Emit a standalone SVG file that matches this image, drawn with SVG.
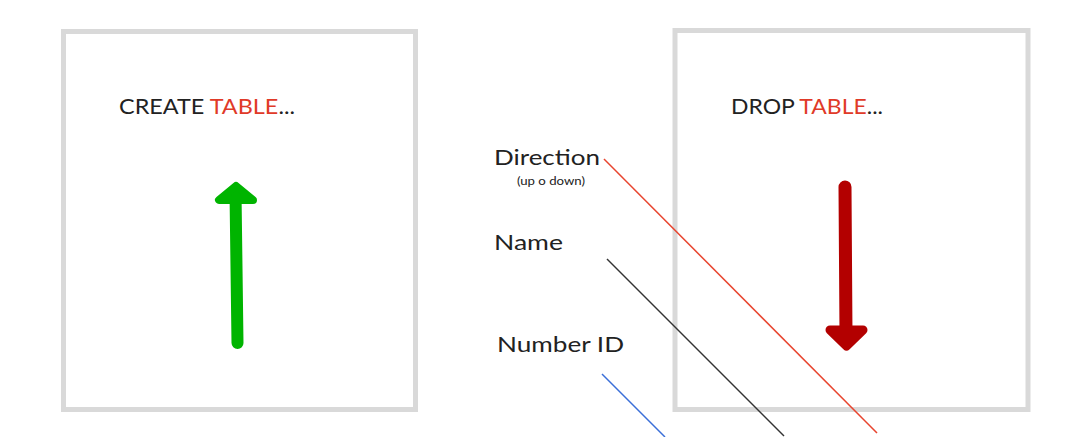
<svg xmlns="http://www.w3.org/2000/svg" width="1074" height="437" viewBox="0 0 1074 437">
<style>
.box{fill:none;stroke:#d9d9d9;stroke-width:5}
.t{font-family:Lato,"Liberation Sans",sans-serif;fill:#222}
.hd{font-size:22px}
.lb{font-size:21px}
.red{fill:#e03a28}
.ln{stroke-width:1.5;fill:none}
</style>
<rect width="1074" height="437" fill="#ffffff"/>
<g id="create-table">
<rect class="box" x="63.5" y="31.5" width="352" height="378"/>
<text class="t hd" x="119" y="114" textLength="176" lengthAdjust="spacingAndGlyphs">CREATE <tspan class="red">TABLE</tspan>...</text>
<g fill="#00b400" stroke="#00b400" stroke-linecap="round" stroke-linejoin="round">
<line x1="237.5" y1="343" x2="235.5" y2="192" stroke-width="12"/>
<polygon points="236,186 219,200 253,200" stroke-width="8"/>
</g>
</g>
<g id="drop-table">
<rect class="box" x="675" y="30.5" width="353" height="379"/>
<text class="t hd" x="731" y="114" textLength="152" lengthAdjust="spacingAndGlyphs">DROP <tspan class="red">TABLE</tspan>...</text>
<g fill="#b30000" stroke="#b30000" stroke-linecap="round" stroke-linejoin="round">
<line x1="845" y1="187" x2="846" y2="335" stroke-width="13"/>
<polygon points="830,330 863,330 846.5,346" stroke-width="9"/>
</g>
</g>
<g id="direction">
<text class="t lb" x="494" y="165" textLength="106" lengthAdjust="spacingAndGlyphs">Direction</text>
<text class="t" x="517" y="185" font-size="11" textLength="68" lengthAdjust="spacingAndGlyphs">(up o down)</text>
</g>
<g id="name">
<text class="t lb" x="494" y="250" textLength="69" lengthAdjust="spacingAndGlyphs">Name</text>
</g>
<g id="number-id">
<text class="t lb" x="497" y="352" textLength="127" lengthAdjust="spacingAndGlyphs">Number ID</text>
</g>
<g id="connectors">
<line class="ln" x1="604" y1="159" x2="877" y2="433" stroke="#e8452f"/>
<line class="ln" x1="607" y1="259" x2="784" y2="436" stroke="#333333"/>
<line class="ln" x1="602" y1="374" x2="665" y2="437" stroke="#3b6fd8"/>
</g>
</svg>
